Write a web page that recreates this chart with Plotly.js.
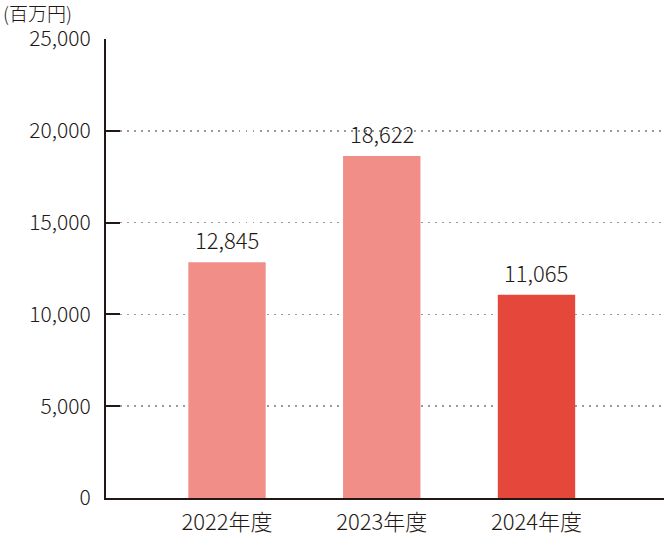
<!DOCTYPE html>
<html>
<head>
<meta charset="utf-8">
<script src="https://cdn.plot.ly/plotly-3.0.1.min.js"></script>
<style>html,body{margin:0;padding:0;background:#fff;}#chart{width:664px;height:556px;}</style>
</head>
<body>
<div id="chart"></div>
<script>
var categories = ["2022年度", "2023年度", "2024年度"];
var values = [12845, 18622, 11065];
var barColors = ["#f08e87", "#f08e87", "#e5473a"];
var yTickVals = [0, 5000, 10000, 15000, 20000, 25000];
var yTickText = ["0", "5,000", "10,000", "15,000", "20,000", "25,000"];
var unitLabel = "(百万円)";

var textColor = "#231815";
var fontFam = "'Noto Sans CJK JP', 'Noto Sans', sans-serif";

var trace = {
  type: "bar",
  x: [0, 1, 2],
  y: values,
  width: 0.5,
  marker: {color: barColors, line: {width: 0}},
  hoverinfo: "none"
};

var annotations = values.map(function(v, i){
  return {
    xref: "x", yref: "y", x: i, y: v,
    xanchor: "center", yanchor: "bottom", yshift: 5,
    text: v.toLocaleString("en-US"), showarrow: false,
    font: {family: fontFam, size: 22, color: textColor, weight: 300}
  };
});
annotations.push({
  xref: "paper", yref: "paper", x: -105/558, y: 1 + 26/459,
  xanchor: "left", yanchor: "middle",
  text: unitLabel, showarrow: false,
  font: {family: fontFam, size: 19, color: textColor, weight: 300}
});

var layout = {
  width: 664, height: 556,
  margin: {l: 106, r: 0, t: 39, b: 58, pad: 0},
  paper_bgcolor: "#fff", plot_bgcolor: "#fff",
  showlegend: false,
  font: {family: fontFam, size: 22, color: textColor, weight: 300},
  xaxis: {
    range: [-0.782, 2.824],
    tickvals: [0, 1, 2],
    ticktext: categories,
    showline: true, linecolor: textColor, linewidth: 2,
    ticks: "", showgrid: false, zeroline: false,
    tickfont: {family: fontFam, size: 22, color: textColor, weight: 300},
    ticklabelstandoff: 4,
    fixedrange: true
  },
  yaxis: {
    range: [0, 25000],
    tickvals: yTickVals,
    ticktext: yTickText,
    showline: true, linecolor: textColor, linewidth: 2,
    ticks: "inside", ticklen: 14, tickwidth: 2, tickcolor: textColor,
    showgrid: true, gridcolor: "#9a9a9a", griddash: "1.5px,5.5px", gridwidth: 1.5,
    zeroline: false,
    tickfont: {family: fontFam, size: 21, color: textColor, weight: 300},
    ticklabelstandoff: 9,
    fixedrange: true
  },
  annotations: annotations
};

Plotly.newPlot("chart", [trace], layout, {displayModeBar: false, staticPlot: true});
</script>
</body>
</html>
